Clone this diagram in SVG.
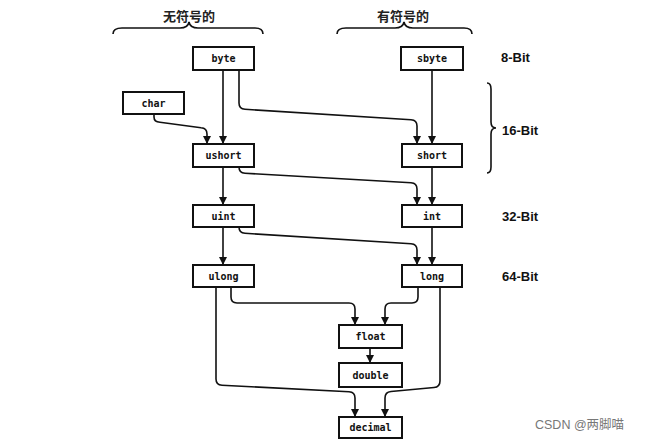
<svg xmlns="http://www.w3.org/2000/svg" width="650" height="443" viewBox="0 0 650 443">
<defs>
<marker id="ah" markerUnits="userSpaceOnUse" markerWidth="9" markerHeight="9" refX="8" refY="4" orient="auto">
<path d="M0,0 L8,4 L0,8 z" fill="#111"/>
</marker>
<style>
.box{fill:#fff;stroke:#111;stroke-width:2}
.lbl{font-family:"DejaVu Sans Mono","Liberation Mono",monospace;font-size:10px;font-weight:bold;fill:#111;text-anchor:middle;dominant-baseline:central}
.con{fill:none;stroke:#111;stroke-width:1.6;marker-end:url(#ah)}
.brace{fill:none;stroke:#111;stroke-width:1.6}
.bit{font-family:"Liberation Sans",Arial,sans-serif;font-size:13px;font-weight:bold;fill:#111}
.cjk{font-family:"Liberation Sans","Noto Sans CJK SC",sans-serif;font-size:13px;font-weight:bold;fill:#222;text-anchor:middle}
</style>
</defs>
<rect width="650" height="443" fill="#fff"/>

<g id="headers">
<text class="cjk" x="189" y="21">无符号的</text>
<text class="cjk" x="403" y="21">有符号的</text>
<path class="brace" d="M113,34 Q113,28 122,28 L180,28 Q188,28 189,22 Q190,28 198,28 L255,28 Q263,28 263,34"/>
<path class="brace" d="M337,34 Q337,28 346,28 L395,28 Q403,28 404,22 Q405,28 413,28 L464,28 Q472,28 472,34"/>
<path class="brace" d="M487,83 Q491,83 491,89 L491,122 Q491,128 496,128 Q491,128 491,134 L491,167 Q491,173 487,173"/>
</g>

<g id="bits">
<text class="bit" x="501" y="62">8-Bit</text>
<text class="bit" x="502" y="135">16-Bit</text>
<text class="bit" x="502" y="221">32-Bit</text>
<text class="bit" x="502" y="281">64-Bit</text>
</g>

<g id="connectors">
<path class="con" d="M223,70 V144"/>
<path class="con" d="M239,70 V103 Q239,109 245,109.3 L411,119.7 Q417,120 417,126 V144"/>
<path class="con" d="M432,70 V144"/>
<path class="con" d="M154,114 V117 Q154,122 160,122.3 L201,127.7 Q207,128 207,134 V144"/>
<path class="con" d="M223,167 V205"/>
<path class="con" d="M239,167 Q239,173 245,173.3 L411,182.7 Q417,183 417,189 V205"/>
<path class="con" d="M432,167 V205"/>
<path class="con" d="M223,227 V265"/>
<path class="con" d="M239,227 Q239,233 245,233.3 L411,243.7 Q417,244 417,250 V265"/>
<path class="con" d="M432,227 V265"/>
<path class="con" d="M231,287 V297 Q231,303 237,303 L349,303 Q355,303 355,309 V325"/>
<path class="con" d="M418,287 V297 Q418,303 412,303 L391,303 Q385,303 385,309 V325"/>
<path class="con" d="M370,348 V363"/>
<path class="con" d="M216,287 V379 Q216,385 222,385.3 L349,391.7 Q355,392 355,398 V417"/>
<path class="con" d="M440,287 V381 Q440,387 434,387.5 L391,391.5 Q385,392 385,398 V417"/>
</g>

<g id="n-byte"><rect class="box" x="193" y="47" width="61" height="23"/><text class="lbl" x="223.5" y="58.5">byte</text></g>
<g id="n-sbyte"><rect class="box" x="401" y="47" width="62" height="23"/><text class="lbl" x="432" y="58.5">sbyte</text></g>
<g id="n-char"><rect class="box" x="123" y="92" width="61" height="22"/><text class="lbl" x="153.5" y="103">char</text></g>
<g id="n-ushort"><rect class="box" x="193" y="144" width="61" height="23"/><text class="lbl" x="223.5" y="155.5">ushort</text></g>
<g id="n-short"><rect class="box" x="402" y="144" width="60" height="23"/><text class="lbl" x="432" y="155.5">short</text></g>
<g id="n-uint"><rect class="box" x="193" y="205" width="61" height="22"/><text class="lbl" x="223.5" y="216">uint</text></g>
<g id="n-int"><rect class="box" x="402" y="205" width="60" height="22"/><text class="lbl" x="432" y="216">int</text></g>
<g id="n-ulong"><rect class="box" x="193" y="265" width="61" height="22"/><text class="lbl" x="223.5" y="276">ulong</text></g>
<g id="n-long"><rect class="box" x="402" y="265" width="60" height="22"/><text class="lbl" x="432" y="276">long</text></g>
<g id="n-float"><rect class="box" x="339" y="325" width="63" height="23"/><text class="lbl" x="370.5" y="336.5">float</text></g>
<g id="n-double"><rect class="box" x="339" y="363" width="63" height="24"/><text class="lbl" x="370.5" y="375">double</text></g>
<g id="n-decimal"><rect class="box" x="339" y="417" width="63" height="21"/><text class="lbl" x="370.5" y="427.5">decimal</text></g>

<text x="535" y="429" font-family="'Liberation Sans','Noto Sans CJK SC',sans-serif" font-size="12.5" fill="#777">CSDN @两脚喵</text>
</svg>
